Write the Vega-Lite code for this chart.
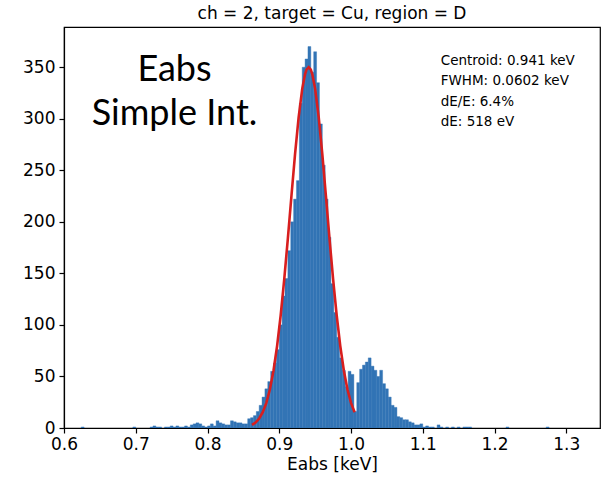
{
  "$schema": "https://vega.github.io/schema/vega-lite/v6.json",
  "width": 536,
  "height": 401,
  "autosize": {"type": "none"},
  "padding": {"left": 64, "top": 27, "right": 2, "bottom": 52},
  "background": "white",
  "config": {
    "view": {"stroke": "black", "strokeWidth": 1.2},
    "font": "DejaVu Sans",
    "axis": {"grid": false, "labelFlush": false, "domainColor": "black", "tickColor": "black", "labelColor": "black", "titleColor": "black", "labelFont": "DejaVu Sans", "titleFont": "DejaVu Sans", "labelFontSize": 17, "titleFontSize": 17, "titleFontWeight": "normal", "tickSize": 5, "domainWidth": 1.2, "tickWidth": 1.2}
  },
  "title": {"text": "ch = 2, target = Cu, region = D", "fontSize": 17, "fontWeight": "normal", "font": "DejaVu Sans", "color": "black", "offset": 4, "anchor": "middle"},
  "datasets": {
    "hist": [
      {"lo":0.624,"hi":0.628,"n":1},{"lo":0.696,"hi":0.700,"n":1},{"lo":0.720,"hi":0.724,"n":1},{"lo":0.724,"hi":0.728,"n":2},
      {"lo":0.728,"hi":0.732,"n":1},{"lo":0.732,"hi":0.736,"n":1},{"lo":0.740,"hi":0.744,"n":1},{"lo":0.744,"hi":0.748,"n":1},
      {"lo":0.748,"hi":0.752,"n":2},{"lo":0.752,"hi":0.756,"n":1},{"lo":0.756,"hi":0.760,"n":2},{"lo":0.760,"hi":0.764,"n":1},
      {"lo":0.764,"hi":0.768,"n":1},{"lo":0.768,"hi":0.772,"n":2},{"lo":0.772,"hi":0.776,"n":1},{"lo":0.776,"hi":0.780,"n":3},
      {"lo":0.780,"hi":0.784,"n":4},{"lo":0.784,"hi":0.788,"n":5},{"lo":0.788,"hi":0.792,"n":4},{"lo":0.792,"hi":0.796,"n":2},
      {"lo":0.796,"hi":0.800,"n":1},{"lo":0.800,"hi":0.804,"n":2},{"lo":0.804,"hi":0.808,"n":4},{"lo":0.808,"hi":0.812,"n":2},
      {"lo":0.812,"hi":0.816,"n":7},{"lo":0.816,"hi":0.820,"n":5},{"lo":0.820,"hi":0.824,"n":4},{"lo":0.824,"hi":0.828,"n":3},
      {"lo":0.828,"hi":0.832,"n":3},{"lo":0.832,"hi":0.836,"n":7},{"lo":0.836,"hi":0.840,"n":6},{"lo":0.840,"hi":0.844,"n":5},
      {"lo":0.844,"hi":0.848,"n":5},{"lo":0.848,"hi":0.852,"n":4},{"lo":0.852,"hi":0.856,"n":4},{"lo":0.856,"hi":0.860,"n":9},
      {"lo":0.860,"hi":0.864,"n":10},{"lo":0.864,"hi":0.868,"n":12},{"lo":0.868,"hi":0.872,"n":16},{"lo":0.872,"hi":0.876,"n":22},
      {"lo":0.876,"hi":0.880,"n":30},{"lo":0.880,"hi":0.884,"n":38},{"lo":0.884,"hi":0.888,"n":45},{"lo":0.888,"hi":0.892,"n":55},
      {"lo":0.892,"hi":0.896,"n":63},{"lo":0.896,"hi":0.900,"n":76},{"lo":0.900,"hi":0.904,"n":100},{"lo":0.904,"hi":0.908,"n":128},
      {"lo":0.908,"hi":0.912,"n":145},{"lo":0.912,"hi":0.916,"n":172},{"lo":0.916,"hi":0.920,"n":200},{"lo":0.920,"hi":0.924,"n":222},
      {"lo":0.924,"hi":0.928,"n":240},{"lo":0.928,"hi":0.932,"n":315},{"lo":0.932,"hi":0.936,"n":350},{"lo":0.936,"hi":0.940,"n":358},
      {"lo":0.940,"hi":0.944,"n":370},{"lo":0.944,"hi":0.948,"n":345},{"lo":0.948,"hi":0.952,"n":365},{"lo":0.952,"hi":0.956,"n":335},
      {"lo":0.956,"hi":0.960,"n":295},{"lo":0.960,"hi":0.964,"n":255},{"lo":0.964,"hi":0.968,"n":222},{"lo":0.968,"hi":0.972,"n":185},
      {"lo":0.972,"hi":0.976,"n":140},{"lo":0.976,"hi":0.980,"n":112},{"lo":0.980,"hi":0.984,"n":88},{"lo":0.984,"hi":0.988,"n":68},
      {"lo":0.988,"hi":0.992,"n":56},{"lo":0.992,"hi":0.996,"n":40},{"lo":0.996,"hi":1.000,"n":55},{"lo":1.000,"hi":1.004,"n":52},
      {"lo":1.004,"hi":1.008,"n":16},{"lo":1.008,"hi":1.012,"n":44},{"lo":1.012,"hi":1.016,"n":57},{"lo":1.016,"hi":1.020,"n":61},
      {"lo":1.020,"hi":1.024,"n":64},{"lo":1.024,"hi":1.028,"n":68},{"lo":1.028,"hi":1.032,"n":60},{"lo":1.032,"hi":1.036,"n":56},
      {"lo":1.036,"hi":1.040,"n":50},{"lo":1.040,"hi":1.044,"n":56},{"lo":1.044,"hi":1.048,"n":43},{"lo":1.048,"hi":1.052,"n":38},
      {"lo":1.052,"hi":1.056,"n":30},{"lo":1.056,"hi":1.060,"n":22},{"lo":1.060,"hi":1.064,"n":20},{"lo":1.064,"hi":1.068,"n":11},
      {"lo":1.068,"hi":1.072,"n":10},{"lo":1.072,"hi":1.076,"n":8},{"lo":1.076,"hi":1.080,"n":8},{"lo":1.080,"hi":1.084,"n":6},
      {"lo":1.084,"hi":1.088,"n":5},{"lo":1.088,"hi":1.092,"n":3},{"lo":1.092,"hi":1.096,"n":3},{"lo":1.096,"hi":1.100,"n":4},
      {"lo":1.100,"hi":1.104,"n":1},{"lo":1.104,"hi":1.108,"n":2},{"lo":1.108,"hi":1.112,"n":1},{"lo":1.112,"hi":1.116,"n":1},
      {"lo":1.120,"hi":1.124,"n":3},{"lo":1.124,"hi":1.128,"n":1},{"lo":1.132,"hi":1.136,"n":1},{"lo":1.140,"hi":1.144,"n":1},
      {"lo":1.148,"hi":1.152,"n":1},{"lo":1.156,"hi":1.160,"n":1},{"lo":1.160,"hi":1.164,"n":1},{"lo":1.164,"hi":1.168,"n":1},
      {"lo":1.216,"hi":1.220,"n":1},{"lo":1.272,"hi":1.276,"n":1}
    ],
    "fit": [
      {"e":0.862,"f":3.0},{"e":0.867,"f":5.3},{"e":0.872,"f":9.2},{"e":0.877,"f":15.3},{"e":0.882,"f":24.4},
      {"e":0.887,"f":37.6},{"e":0.892,"f":55.8},{"e":0.897,"f":79.7},{"e":0.902,"f":109.4},{"e":0.907,"f":144.6},
      {"e":0.912,"f":184.0},{"e":0.917,"f":225.3},{"e":0.922,"f":265.6},{"e":0.927,"f":301.3},{"e":0.932,"f":329.0},
      {"e":0.936,"f":343.4},{"e":0.938,"f":347.6},{"e":0.941,"f":350.0},{"e":0.944,"f":347.6},{"e":0.946,"f":343.4},
      {"e":0.950,"f":329.0},{"e":0.955,"f":301.3},{"e":0.960,"f":265.6},{"e":0.965,"f":225.3},{"e":0.970,"f":184.0},
      {"e":0.975,"f":144.6},{"e":0.980,"f":109.4},{"e":0.985,"f":79.7},{"e":0.990,"f":55.8},{"e":0.995,"f":37.6},
      {"e":1.000,"f":24.4},{"e":1.005,"f":15.3}
    ]
  },
  "layer": [
    {
      "data": {"name": "hist"},
      "mark": {"type": "bar", "color": "#3274b5", "stroke": "#3274b5", "strokeWidth": 0.4, "clip": true},
      "encoding": {
        "x": {"field": "lo", "type": "quantitative", "scale": {"domain": [0.6, 1.347], "nice": false, "zero": false, "padding": 0},
              "axis": {"values": [0.6, 0.7, 0.8, 0.9, 1.0, 1.1, 1.2, 1.3], "format": ".1f", "title": "Eabs [keV]", "labelPadding": 3, "titlePadding": 4}},
        "x2": {"field": "hi"},
        "y": {"field": "n", "type": "quantitative", "scale": {"domain": [0, 389], "nice": false, "padding": 0},
              "axis": {"values": [0, 50, 100, 150, 200, 250, 300, 350], "title": null, "labelPadding": 4}},
        "y2": {"datum": 0}
      }
    },
    {
      "data": {"name": "fit"},
      "mark": {"type": "line", "color": "#d81e1e", "strokeWidth": 2.6, "clip": true},
      "encoding": {
        "x": {"field": "e", "type": "quantitative"},
        "y": {"field": "f", "type": "quantitative"}
      }
    },
    {
      "data": {"values": [{}]},
      "mark": {"type": "text", "text": ["Centroid: 0.941 keV", "FWHM: 0.0602 keV", "dE/E: 6.4%", "dE: 518 eV"], "align": "left", "baseline": "top", "font": "DejaVu Sans", "fontSize": 13.5, "lineHeight": 20.5, "color": "black"},
      "encoding": {"x": {"datum": 1.125}, "y": {"datum": 363}}
    },
    {
      "data": {"values": [{}]},
      "mark": {"type": "text", "text": ["Eabs", "Simple Int."], "align": "center", "baseline": "top", "font": "Lato", "fontSize": 36, "lineHeight": 44, "color": "black"},
      "encoding": {"x": {"datum": 0.754}, "y": {"datum": 364}}
    }
  ]
}
